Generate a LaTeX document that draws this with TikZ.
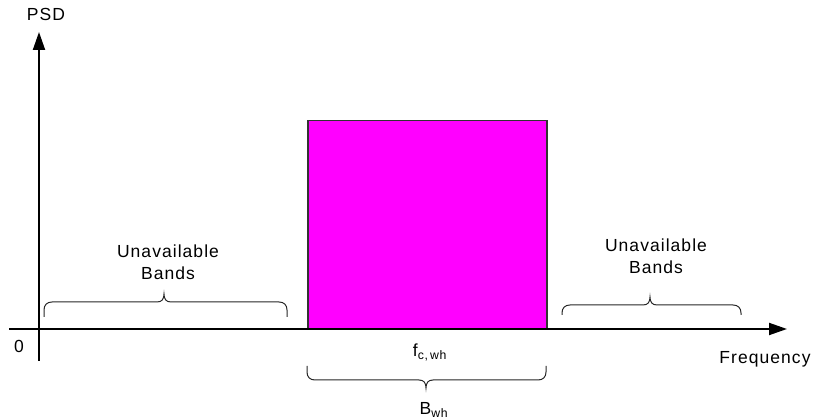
\documentclass[tikz,border=0pt]{standalone}
\usepackage{fontspec}
\setmainfont{Liberation Sans}[LetterSpace=6]
\usetikzlibrary{arrows.meta}
\definecolor{bandmag}{RGB}{255,0,255}
\tikzset{
  axis/.style={line width=2pt, -{Triangle[length=18pt,width=12pt]}},
  lbl/.style={font=\fontsize{17.5}{21.5}\selectfont, inner sep=0pt, align=center},
  bracestyle/.style={line width=1pt, draw=black!85},
  bandbox/.style={fill=bandmag, draw=black!80, line width=1.5pt}
}
\begin{document}
\begin{tikzpicture}[x=1pt,y=-1pt]
\useasboundingbox (0,0) rectangle (815,419);
% axes
\coordinate (xs) at (9,329);
\coordinate (xe) at (787,329);
\coordinate (ys) at (39,361);
\coordinate (ye) at (39,32);
\node[bandbox, minimum width=239pt, minimum height=209pt, anchor=north west, inner sep=0pt] (box) at (307,120) {};
\draw[axis] (xs) -- (xe);
\draw[axis] (ys) -- (ye);
% labels
\node[lbl] (psd) at (46,14) {PSD};
\node[lbl] (zero) at (19,346) {0};
\node[lbl] (freq) at (765,359) {Frequency};
\node[lbl] (fc) at (430,352) {f\textsubscript{c,\,wh}};
\node[lbl] (bw) at (434,410) {B\textsubscript{wh}};
\node[lbl] (lu) at (168,262) {Unavailable\\Bands};
\node[lbl] (ru) at (656,256) {Unavailable\\Bands};
% left brace
\draw[bracestyle] (44,317) -- (44,310) .. controls (44,305) and (47,302) .. (52,302) -- (157,302)
  .. controls (162,302) and (164,299) .. (164,294)
  .. controls (164,299) and (166,302) .. (171,302) -- (279,302)
  .. controls (284,302) and (287,305) .. (287,310) -- (287,317);
% right brace
\draw[bracestyle] (562,315) -- (562,313) .. controls (562,308) and (565,305) .. (570,305) -- (643,305)
  .. controls (648,305) and (650,302) .. (650,297)
  .. controls (650,302) and (652,305) .. (657,305) -- (733,305)
  .. controls (738,305) and (741,308) .. (741,313) -- (741,315);
% bottom brace
\draw[bracestyle] (307,366) -- (307,372) .. controls (307,377) and (310,380) .. (315,380) -- (419,380)
  .. controls (424,380) and (426,383) .. (426,388)
  .. controls (426,383) and (428,380) .. (433,380) -- (538,380)
  .. controls (543,380) and (546,377) .. (546,372) -- (546,366);
\end{tikzpicture}
\end{document}
